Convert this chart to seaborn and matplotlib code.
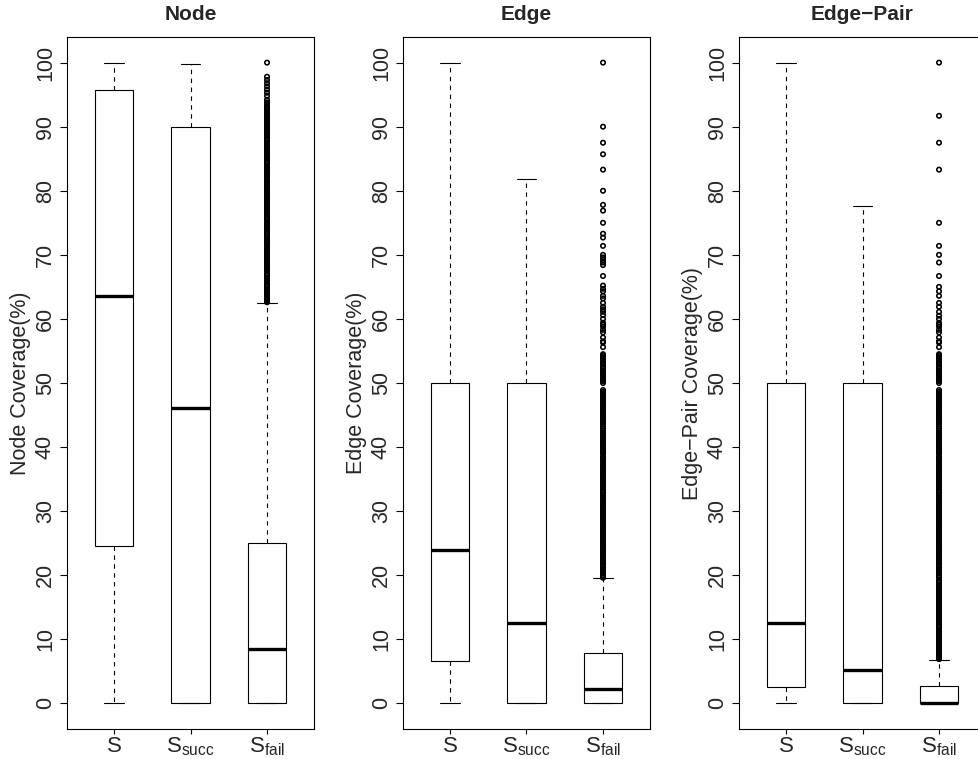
import numpy as np
import pandas as pd
import seaborn as sns
import matplotlib.pyplot as plt

# Panels and groups
panels = ["Node", "Edge", "Edge\u2212Pair"]
groups = ["S", "S_succ", "S_fail"]
group_labels = ["S", r"$S_{succ}$", r"$S_{fail}$"]

# Five-number summaries (lo, q1, median, q3, hi)
node_lo = [0, 0, 0]
node_q1 = [24.6, 0, 0]
node_med = [63.6, 46.1, 8.5]
node_q3 = [95.7, 90.0, 25.0]
node_hi = [100, 99.8, 62.5]

edge_lo = [0, 0, 0]
edge_q1 = [6.6, 0, 0]
edge_med = [23.9, 12.5, 2.2]
edge_q3 = [50, 50, 7.8]
edge_hi = [100, 81.8, 19.5]

pair_lo = [0, 0, 0]
pair_q1 = [2.5, 0, 0]
pair_med = [12.5, 5.2, 0]
pair_q3 = [50, 50, 2.7]
pair_hi = [100, 77.7, 6.75]

# Outliers (only S_fail has them)
node_fail_out = [100, 97.8, 97.3, 96.8, 96.3, 95.8, 95.3, 94.8, 94.2,
                 93.8, 93.5, 93.3, 93.0, 92.9, 92.6, 92.3, 92.0, 91.8, 91.5,
                 91.3, 91.1, 90.9, 90.7, 90.5, 90.2, 90.0, 89.7, 89.5, 89.2,
                 88.9, 88.7, 88.5, 88.2, 88.0, 87.8, 87.5, 87.2, 87.0, 86.9,
                 86.7, 86.4, 86.2, 85.9, 85.7, 85.4, 85.2, 84.9, 84.6, 84.4,
                 84.2, 83.9, 83.7, 83.5, 83.3, 83.0, 82.8, 82.6, 82.4, 82.1,
                 81.8, 81.5, 81.3, 81.0, 80.8, 80.6, 80.4, 80.2, 80.0, 79.8,
                 79.5, 79.2, 78.9, 78.8, 78.6, 78.3, 78.1, 77.9, 77.8, 77.5,
                 77.3, 77.1, 76.9, 76.7, 76.5, 76.2, 75.9, 75.7, 75.5, 75.2,
                 75.0, 74.7, 74.4, 74.2, 73.9, 73.6, 73.3, 73.0, 72.7, 72.5,
                 72.2, 72.0, 71.9, 71.6, 71.4, 71.1, 70.8, 70.6, 70.4, 70.2,
                 70.0, 69.8, 69.6, 69.4, 69.2, 69.0, 68.8, 68.6, 68.4, 68.1,
                 67.9, 67.7, 67.5, 67.1, 66.9, 66.7, 66.4, 66.2, 65.9, 65.7,
                 65.4, 65.2, 65.0, 64.7, 64.5, 64.3, 64.1, 63.9, 63.7, 63.6,
                 63.4, 63.2, 63.0, 62.9, 62.8, 62.6]

# dense part shared by Edge and Edge-Pair failing runs
fail_mid = [59.4, 59.1, 58.8, 58.3, 57.9, 57.1, 56.5, 56.3, 55.6,
            54.5, 54.3, 54.2, 54.0, 53.8, 53.6, 53.3, 53.0, 52.9, 52.6,
            52.4, 52.2, 51.9, 51.7, 51.5, 51.3, 51.1, 50.8, 50.5, 50.3, 50.0,
            48.9, 48.6, 48.4, 48.1, 47.9, 47.6, 47.4, 47.1, 46.9, 46.7, 46.4,
            46.2, 46.0, 45.8, 45.6, 45.5, 45.2, 45.0, 44.7, 44.4, 44.2, 44.0,
            43.8, 43.5, 43.2, 42.9, 42.6, 42.3, 42.1, 41.9, 41.7, 41.4, 41.2,
            41.0, 40.9, 40.7, 40.5, 40.2, 40.0, 39.8, 39.5, 39.3, 39.1, 38.9,
            38.5, 38.3, 38.1, 37.8, 37.5, 37.3, 37.0, 36.8, 36.7, 36.4, 36.2,
            36.0, 35.9, 35.7, 35.5, 35.3, 35.0, 34.8, 34.6, 34.4, 34.1, 33.8,
            33.6, 33.3, 33.1, 32.9, 32.6, 32.4, 32.1, 31.8, 31.6, 31.3, 31.0,
            30.8, 30.6, 30.4, 30.2, 30.0, 29.7, 29.4, 29.2, 29.0, 28.8, 28.6,
            28.3, 28.1, 27.8, 27.6, 27.3, 27.1, 26.9, 26.7, 26.5, 26.3, 26.1,
            25.9, 25.7, 25.5, 25.3, 25.0, 24.8, 24.6, 24.4, 24.1, 23.8, 23.5,
            23.3, 23.1, 22.9, 22.7, 22.4, 22.2, 22.0, 21.7, 21.6, 21.4, 21.1,
            20.8, 20.7, 20.5, 20.3, 20.0, 19.8, 19.6]

edge_fail_out = [100, 90.0, 87.5, 85.7, 83.3, 80.0, 77.8, 76.9, 75.0, 73.3,
                 72.7, 71.4, 70.0, 69.6, 69.2, 68.8, 68.4, 66.7, 65.2, 64.7,
                 64.3, 63.6, 63.2, 62.5, 61.9, 61.5, 61.1, 60.6, 60.0] + fail_mid

pair_fail_out = [100, 91.7, 87.5, 83.3, 75.0, 71.4, 70.0, 68.8, 66.7, 65.0,
                 64.3, 63.6, 62.5, 61.9, 61.1, 60.5, 60.0] + fail_mid + \
                [19.2, 19.0, 18.8, 18.5, 18.2, 18.0, 17.8, 17.6, 17.4, 17.1,
                 16.9, 16.7, 16.5, 16.3, 16.0, 15.8, 15.6, 15.4, 15.2, 15.0,
                 14.8, 14.5, 14.3, 14.0, 13.8, 13.6, 13.5, 13.3, 13.0, 12.9,
                 12.7, 12.5, 12.2, 12.0, 11.8, 11.5, 11.3, 11.1, 10.9, 10.7,
                 10.5, 10.3, 10.2, 10.0, 9.8, 9.5, 9.3, 9.1, 8.9, 8.7, 8.5,
                 8.3, 8.2, 8.0, 7.8, 7.7, 7.6, 7.4, 7.2, 7.1, 7.0, 6.9]

summaries = {
    panels[0]: [node_lo, node_q1, node_med, node_q3, node_hi],
    panels[1]: [edge_lo, edge_q1, edge_med, edge_q3, edge_hi],
    panels[2]: [pair_lo, pair_q1, pair_med, pair_q3, pair_hi],
}
outliers = {panels[0]: node_fail_out, panels[1]: edge_fail_out, panels[2]: pair_fail_out}
ylabels = ["Node Coverage(%)", "Edge Coverage(%)", "Edge\u2212Pair Coverage(%)"]

sns.set_style("ticks")
plt.rcParams["font.family"] = ["Liberation Sans", "DejaVu Sans"]
plt.rcParams["mathtext.default"] = "regular"

fig = plt.figure(figsize=(9.79, 7.59), dpi=100)
W, H = 979, 759
lefts = [67, 403, 739]

for i, panel in enumerate(panels):
    ax = fig.add_axes([lefts[i] / W, 30 / H, 247 / W, 692 / H])
    stats = summaries[panel]
    rows = []
    for j, g in enumerate(groups):
        for k in range(5):
            rows.append({"group": g, "value": stats[k][j]})
    box_df = pd.DataFrame(rows)
    out_df = pd.DataFrame({"group": "S_fail", "value": outliers[panel]})

    sns.boxplot(data=box_df, x="group", y="value", order=groups, ax=ax,
                whis=(0, 100), width=0.5, showfliers=False,
                color="white", linecolor="black", linewidth=0.8,
                medianprops=dict(linewidth=2.4, color="black"),
                whiskerprops=dict(linestyle=(0, (4, 4)), linewidth=0.8),
                capprops=dict(linewidth=0.8))
    sns.stripplot(data=out_df, x="group", y="value", order=groups, ax=ax,
                  jitter=False, size=3.2, color="black")
    for coll in ax.collections:
        coll.set_facecolor("none")
        coll.set_edgecolor("black")
        coll.set_linewidth(1.15)

    ax.set_xlim(-0.614, 2.614)
    ax.set_ylim(-4, 104)
    ax.set_yticks(range(0, 101, 10))
    ax.set_xticks(range(3))
    ax.set_xticklabels(group_labels, fontsize=16)
    ax.tick_params(axis="y", labelrotation=90, labelsize=15.5, length=5,
                   width=0.8, pad=3, color="black")
    ax.tick_params(axis="x", length=3.7, width=0.8, pad=1, color="black")
    for lab in ax.get_yticklabels():
        lab.set_va("center")
    for sp in ax.spines.values():
        sp.set_visible(True)
        sp.set_linewidth(0.8)
        sp.set_color("black")
    ax.set_xlabel("")
    ax.set_ylabel(ylabels[i], fontsize=15.5, labelpad=3)
    ax.set_title(panel, fontsize=15, fontweight="bold", pad=12)

fig.savefig("out.png", dpi=100)
